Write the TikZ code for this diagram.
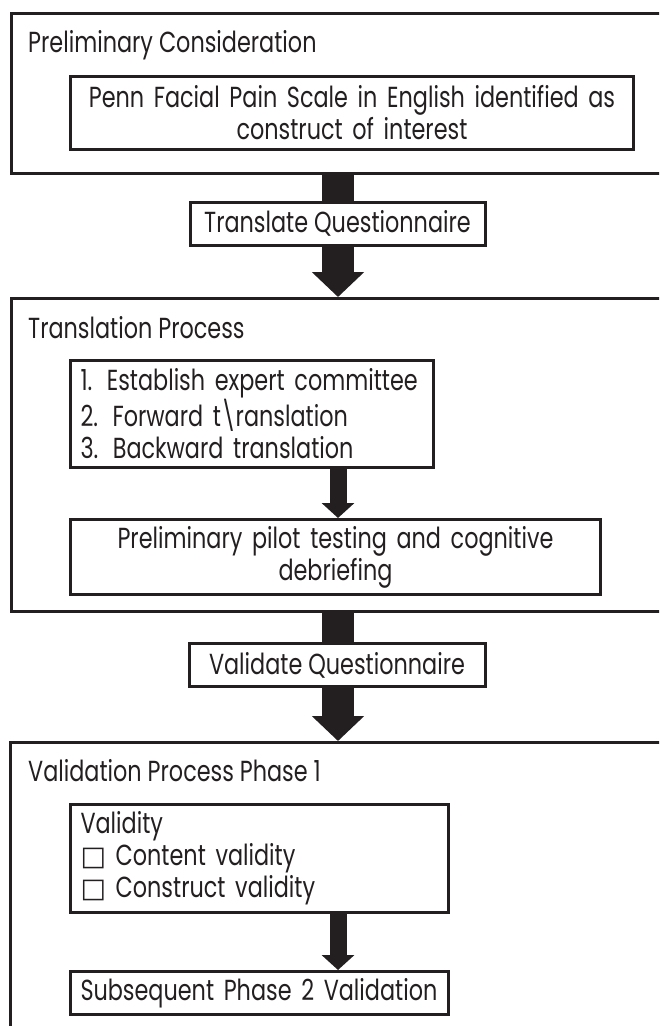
\documentclass[tikz,border=0pt]{standalone}
\usepackage{fontspec}
\setmainfont{Poppins}[FakeStretch=0.77]
\newfontfamily\symbfont{DejaVu Sans}
\usetikzlibrary{arrows.meta}
\definecolor{ink}{RGB}{35,31,32}
\hyphenpenalty=10000

\begin{document}
\begin{tikzpicture}[x=1pt,y=-1pt,
    font=\fontsize{29}{32}\selectfont,text=ink,
    stage/.style={draw=ink,line width=3pt,anchor=north west,inner sep=0pt,minimum width=700},
    inbox/.style={draw=ink,line width=3pt,fill=white,anchor=north west,inner sep=0pt},
    tagbox/.style={draw=ink,line width=3pt,fill=white,inner sep=0pt,minimum height=43},
    title/.style={anchor=base west,inner sep=0pt},
    bigarrow/.style={ink,line width=32pt,-{Triangle[width=51pt,length=25pt]}},
    smallarrow/.style={ink,line width=17pt,-{Triangle[width=32pt,length=15pt]}}]
      \useasboundingbox (0,0) rectangle (659,1026);
      \clip (0,0) rectangle (659,1026);
      \coordinate (axis) at (338,0);

      % stage 1
      \node[stage,minimum height=160] (stage1) at (10,12) {};
      \node[title] (t1) at (28,52) {Preliminary Consideration};
      \node[inbox,minimum width=563,minimum height=73,text width=543,align=center] (penn) at (69,75)
        {Penn Facial Pain Scale in English identified as\\construct of interest};

      % stage 2
      \node[stage,minimum height=313] (stage2) at (10,297) {};
      \node[title] (t2) at (28,338) {Translation Process};
      \node[inbox,minimum width=363,minimum height=107,text width=343,align=left] (steps) at (69,359)
        {1. Establish expert committee\\2. Forward t\textbackslash ranslation\\3. Backward translation};
      \node[inbox,minimum width=530,minimum height=75,text width=510,align=center] (pilot) at (69,518)
        {Preliminary pilot testing and cognitive\\debriefing};
      \draw[smallarrow] (steps.south -| axis) -- (pilot.north -| axis);

      % stage 3
      \node[stage,minimum height=330] (stage3) at (9,741) {};
      \node[title] (t3) at (28,781) {Validation Process Phase 1};
      \node[inbox,minimum width=378,minimum height=108,text width=358,align=left] (validity) at (69,803)
        {Validity\\{\symbfont\fontsize{27}{32}\selectfont □} Content validity\\{\symbfont\fontsize{27}{32}\selectfont □} Construct validity};
      \node[inbox,minimum width=378,minimum height=43,text width=358,align=left] (phase2) at (69,970)
        {Subsequent Phase 2 Validation};
      \draw[smallarrow] (validity.south -| axis) -- (phase2.north -| axis);

      % links between stages
      \draw[bigarrow] (stage1.south -| axis) -- (stage2.north -| axis);
      \draw[bigarrow] (stage2.south -| axis) -- (stage3.north -| axis);
      \node[tagbox,minimum width=295] (translate) at (337.5,223.5) {Translate Questionnaire};
      \node[tagbox,minimum width=296] (validate) at (337,665) {Validate Questionnaire};
\end{tikzpicture}
\end{document}
